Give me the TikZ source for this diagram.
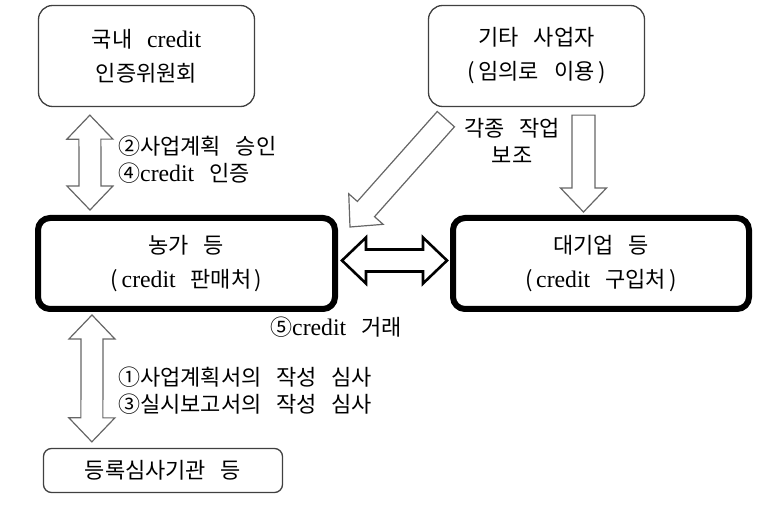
\documentclass[tikz,border=0pt]{standalone}
\usepackage{fontspec}
\setmainfont{Liberation Serif}[Scale=1.08]
\newfontfamily\kr{Noto Sans CJK KR}[WordSpace=3]
\usetikzlibrary{calc}
\newcommand{\cred}{{\rmfamily credit}}
% block arrow with one head, from #2 to #3
\newcommand{\onearrow}[3][]{%
  \coordinate (hb) at ($(#3)!24pt!(#2)$);
  \draw[fatarrow,#1] ($(#2)!11.5pt!90:(#3)$) -- ($(hb)!11.5pt!90:(#3)$)
    -- ($(hb)!23pt!90:(#3)$) -- (#3) -- ($(hb)!23pt!-90:(#3)$)
    -- ($(hb)!11.5pt!-90:(#3)$) -- ($(#2)!11.5pt!-90:(#3)$) -- cycle;
}
% block arrow with two heads
\newcommand{\twoarrow}[3][]{%
  \coordinate (ha) at ($(#2)!24pt!(#3)$);
  \coordinate (hb) at ($(#3)!24pt!(#2)$);
  \draw[fatarrow,#1] (#2) -- ($(ha)!23pt!90:(#3)$) -- ($(ha)!11pt!90:(#3)$)
    -- ($(hb)!11pt!90:(#3)$) -- ($(hb)!23pt!90:(#3)$) -- (#3)
    -- ($(hb)!23pt!-90:(#3)$) -- ($(hb)!11pt!-90:(#3)$)
    -- ($(ha)!11pt!-90:(#3)$) -- ($(ha)!23pt!-90:(#3)$) -- cycle;
}
\tikzset{
  box/.style={draw=black!75, line width=1.3pt, rounded corners=14pt, align=center,
    font=\kr\fontsize{22}{34}\selectfont},
  bigbox/.style={box, draw=black, line width=6pt, rounded corners=12pt},
  note/.style={anchor=west, align=left, inner sep=0pt, font=\kr\fontsize{22}{27}\selectfont},
  fatarrow/.style={draw=black!60, line width=1.2pt, fill=white, line join=miter},
}
\begin{document}
\begin{tikzpicture}[x=1pt, y=-1pt]
  \useasboundingbox (0,0) rectangle (764,505);
  \draw
    (146.5,56) node[box, minimum width=216pt, minimum height=101pt] (inj) {국내 \cred\\인증위원회}
    (536.5,56) node[box, minimum width=216pt, minimum height=101pt] (etc) {기타 사업자\\(\,임의로 이용\,)}
    (186.5,263.5) node[bigbox, minimum width=297pt, minimum height=91pt] (farm) {농가 등\\(\,\cred{} 판매처\,)}
    (601,263.5) node[bigbox, minimum width=296pt, minimum height=91pt] (corp) {대기업 등\\(\,\cred{} 구입처\,)}
    (163,470.5) node[box, rounded corners=8pt, minimum width=239pt, minimum height=44pt] (reg) {등록심사기관 등};
  \draw
    (118,160) node[note] (n24) {②사업계획 승인\\④\cred{} 인증}
    (512,141) node[note, anchor=center, align=center] (help) {각종 작업\\보조}
    (270,327) node[note] (n5) {⑤\cred{} 거래}
    (118,391) node[note] (n13) {①사업계획서의 작성 심사\\③실시보고서의 작성 심사};
  % arrow ends
  \coordinate (inj-out) at ($(inj.south west)+(52,8)$);
  \coordinate (farm-top) at ($(farm.north west)+(55,-5)$);
  \coordinate (farm-bot) at ($(farm.south west)+(57,3)$);
  \coordinate (reg-top) at ($(reg.north west)+(49,-6)$);
  \coordinate (farm-side) at ($(farm.east)+(4,-3)$);
  \coordinate (corp-side) at ($(corp.west)+(-3,-3)$);
  \coordinate (etc-left) at ($(etc.south west)+(18,12)$);
  \coordinate (farm-ne) at ($(farm.north east)+(12,12)$);
  \coordinate (etc-down) at ($(etc.south)+(47,8)$);
  \coordinate (corp-top) at ($(corp.north)+(-17.5,-3)$);
  \begin{scope}
    \twoarrow{inj-out}{farm-top}
    \twoarrow{farm-bot}{reg-top}
    \twoarrow[draw=black, line width=2.6pt]{farm-side}{corp-side}
    \onearrow{etc-left}{farm-ne}
    \onearrow{etc-down}{corp-top}
  \end{scope}
\end{tikzpicture}
\end{document}
